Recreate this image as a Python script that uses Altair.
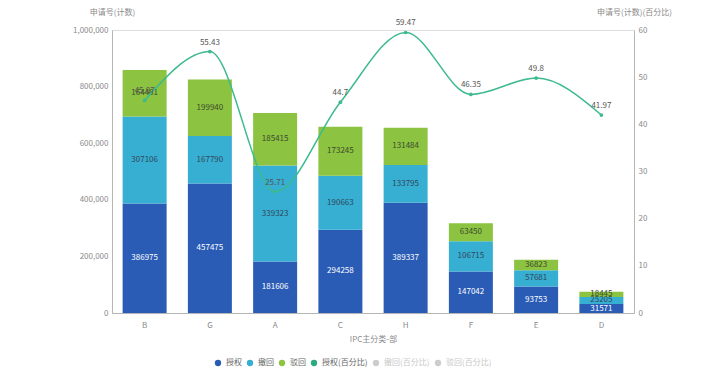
import altair as alt
import pandas as pd

cats = ["B", "G", "A", "C", "H", "F", "E", "D"]
granted = [386975, 457475, 181606, 294258, 389337, 147042, 93753, 31571]
withdrawn = [307106, 167790, 339323, 190663, 133795, 106715, 57681, 25205]
rejected = [164461, 199940, 185415, 173245, 131484, 63450, 36823, 18445]
pct = [45.07, 55.43, 25.71, 44.7, 59.47, 46.35, 49.8, 41.97]
pct_labels = ["45.07", "55.43", "25.71", "44.7", "59.47", "46.35", "49.8", "41.97"]

series = ["授权", "撤回", "驳回"]
legend_names = ["授权", "撤回", "驳回", "授权(百分比)", "撤回(百分比)", "驳回(百分比)"]
legend_colors = ["#2a5cb6", "#36afd2", "#8cc341", "#2aab7e", "#cccccc", "#cccccc"]
text_colors = ["#ffffff", "#33475b", "#3d4a2e"]
left_ticks = [0, 200000, 400000, 600000, 800000, 1000000]
right_ticks = [0, 10, 20, 30, 40, 50, 60]

FONT = "Noto Sans CJK SC"
AXIS_GREY = "#b5b5b5"
LABEL_GREY = "#8a8a8a"
LINE_COLOR = "#3dba8e"

rows = []
for i, c in enumerate(cats):
    for j, (s, vals) in enumerate(zip(series, [granted, withdrawn, rejected])):
        rows.append({"cat": c, "series": s, "value": vals[i], "order": j, "tc": text_colors[j]})
bar_df = pd.DataFrame(rows)
line_df = pd.DataFrame({"cat": cats, "pct": pct, "label": pct_labels})

x_enc = alt.X(
    "cat:N",
    sort=cats,
    scale=alt.Scale(paddingInner=0.32, paddingOuter=0.16),
    axis=alt.Axis(
        title="IPC主分类-部",
        labelAngle=0,
        ticks=False,
        labelPadding=8,
        titlePadding=6,
        labelFontSize=8,
        titleFontSize=8,
        labelColor=LABEL_GREY,
        titleColor=LABEL_GREY,
        titleFontWeight="normal",
        domainColor=AXIS_GREY,
    ),
)

base = alt.Chart(bar_df).transform_stack(
    stack="value", groupby=["cat"], as_=["v0", "v1"], sort=[alt.SortField("order")]
).transform_calculate(mid="(datum.v0 + datum.v1) / 2")

bars = base.mark_bar(size=44).encode(
    x=x_enc,
    y=alt.Y(
        "v1:Q",
        scale=alt.Scale(domain=[0, 1000000]),
        axis=alt.Axis(
            title="申请号(计数)",
            titleAngle=0,
            titleX=0,
            titleY=-18,
            titleAlign="center",
            titleBaseline="middle",
            values=left_ticks,
            format=",d",
            grid=False,
            ticks=False,
            labelPadding=4,
            labelFontSize=8,
            titleFontSize=8,
            labelColor=LABEL_GREY,
            titleColor=LABEL_GREY,
            titleFontWeight="normal",
            domainColor=AXIS_GREY,
        ),
    ),
    y2="v0:Q",
    color=alt.Color(
        "series:N",
        scale=alt.Scale(domain=legend_names, range=legend_colors),
        legend=alt.Legend(
            orient="none",
            legendX=102,
            legendY=329,
            direction="horizontal",
            title=None,
            symbolType="circle",
            symbolSize=40,
            symbolStrokeWidth=0,
            labelFontSize=8,
            labelOffset=4,
            columnPadding=4,
            padding=0,
            labelColor={"expr": "indexof(['撤回(百分比)','驳回(百分比)'], datum.label) >= 0 ? '#c8c8c8' : '#666666'"},
        ),
    ),
    order=alt.Order("order:Q"),
)

bar_text = base.mark_text(fontSize=8, font=FONT).encode(
    x=alt.X("cat:N", sort=cats),
    y=alt.Y("mid:Q"),
    text=alt.Text("value:Q", format="d"),
    color=alt.Color("tc:N", scale=None),
)

left_layer = alt.layer(bars, bar_text)

line_base = alt.Chart(line_df).encode(
    x=alt.X("cat:N", sort=cats),
    y=alt.Y(
        "pct:Q",
        scale=alt.Scale(domain=[0, 60]),
        axis=alt.Axis(
            orient="right",
            title="申请号(计数)(百分比)",
            titleAngle=0,
            titleX=0,
            titleY=-18,
            titleAlign="center",
            titleBaseline="middle",
            values=right_ticks,
            grid=False,
            ticks=False,
            labelPadding=4,
            labelFontSize=8,
            titleFontSize=8,
            labelColor=LABEL_GREY,
            titleColor=LABEL_GREY,
            titleFontWeight="normal",
            domainColor=AXIS_GREY,
        ),
    ),
)

line = line_base.mark_line(interpolate="monotone", color=LINE_COLOR, strokeWidth=1.5)
pts = line_base.mark_point(filled=True, color=LINE_COLOR, size=14, opacity=1)
line_text = line_base.mark_text(dy=-9, fontSize=8, font=FONT, color="#555555").encode(text="label:N")

right_layer = alt.layer(line, pts, line_text)

chart = (
    alt.layer(left_layer, right_layer)
    .resolve_scale(y="independent")
    .properties(
        width=522,
        height=283,
        autosize=alt.AutoSizeParams(type="none"),
        padding={"left": 104, "top": 22, "right": 60, "bottom": 56},
    )
    .configure_view(stroke=None)
    .configure(font=FONT)
)

chart.save("out.html", embed_options={"renderer": "svg", "actions": False})
